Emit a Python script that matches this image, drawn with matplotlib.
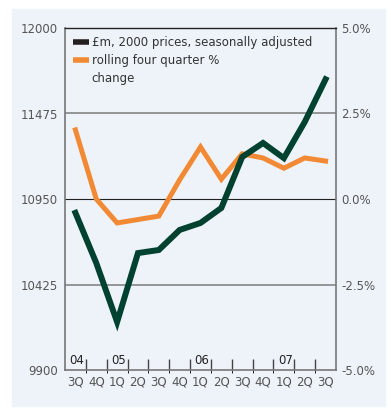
import matplotlib
matplotlib.use("Agg")
import matplotlib.pyplot as plt
from matplotlib.lines import Line2D
from matplotlib.patches import Rectangle
from matplotlib.transforms import blended_transform_factory

quarters = ['3Q', '4Q', '1Q', '2Q', '3Q', '4Q', '1Q', '2Q', '3Q', '4Q', '1Q', '2Q', '3Q']
years = ['04', '05', '06', '07']
year_pos = [0, 2, 6, 10]

gdp = [10865, 10557, 10195, 10618, 10637, 10760, 10803, 10895,
       11208, 11294, 11201, 11423, 11685]
growth = [2.02, 0.0, -0.70, -0.60, -0.50, 0.56, 1.52, 0.58,
          1.32, 1.20, 0.90, 1.20, 1.11]

left_ticks = [9900, 10425, 10950, 11475, 12000]
right_ticks = [-5.0, -2.5, 0.0, 2.5, 5.0]

bg = '#eef3fa'
green = '#00412f'
orange = '#f28a35'
txt = '#555555'

plt.rcParams['font.family'] = ['DejaVu Sans']
plt.rcParams['font.size'] = 8.5

fig = plt.figure(figsize=(3.91, 4.15), dpi=100)
fig.patches.append(Rectangle((12/391, 1 - 406/415), 373/391, 397/415,
                             transform=fig.transFigure, color=bg, zorder=-10))

# right axis (percent) sits underneath, left axis (£m) on top
ax2 = fig.add_axes([65/391, 45/415, 271/391, 342/415], zorder=0)
ax2.set_facecolor(bg)
ax = fig.add_axes([65/391, 45/415, 271/391, 342/415], zorder=1, sharex=ax2)
ax.patch.set_visible(False)

x = list(range(len(quarters)))

ax2.yaxis.tick_right()
ax2.set_ylim(-5, 5)
ax2.set_yticks(right_ticks)
ax2.set_yticklabels(['%.1f%%' % v for v in right_ticks])
ax2.tick_params(axis='y', length=0, pad=4, colors=txt)
ax2.tick_params(axis='x', labelbottom=False, length=0)
for s in ax2.spines.values():
    s.set_visible(False)

for v in [-2.5, 2.5]:
    ax2.axhline(v, color='#858585', lw=1.2, zorder=1)
ax2.axhline(0, color='#222222', lw=0.8, zorder=1)
ax2.plot(x, growth, color=orange, lw=3.6, zorder=3, solid_joinstyle='miter')

ax.set_xlim(-0.5, len(quarters) - 0.5)
ax.set_ylim(9900, 12000)
ax.set_yticks(left_ticks)
ax.set_yticklabels([str(v) for v in left_ticks])
ax.tick_params(axis='y', length=0, pad=5, colors=txt)
ax.set_xticks(x)
ax.set_xticklabels(quarters)
ax.tick_params(axis='x', which='major', length=0, pad=4, colors=txt)
ax.set_xticks([i + 0.5 for i in x[:-1]], minor=True)
ax.tick_params(axis='x', which='minor', direction='in', length=8,
               width=1, color='#444444')

for s in ['left', 'right', 'bottom']:
    ax.spines[s].set_color('#777777')
    ax.spines[s].set_linewidth(1.2)
ax.spines['top'].set_color('#222222')
ax.spines['top'].set_linewidth(1.0)

ax.plot(x, gdp, color=green, lw=4.3, zorder=4, solid_joinstyle='miter')

trans = blended_transform_factory(ax.transData, ax.transAxes)
for yr, p in zip(years, year_pos):
    ax.text(p + 0.42, 0.008, yr, transform=trans, ha='right', va='bottom',
            color='#222222', fontsize=8.5)

handles = [Line2D([], [], color='#231f20', lw=4, solid_capstyle='butt'),
           Line2D([], [], color=orange, lw=4, solid_capstyle='butt'),
           Line2D([], [], color='none', lw=0)]
leg = ax.legend(handles, ['£m, 2000 prices, seasonally adjusted',
                          'rolling four quarter %', 'change'],
                loc='upper left', frameon=False, handlelength=1.3,
                handletextpad=0.25, borderaxespad=0.3, labelspacing=0.42,
                bbox_to_anchor=(0.0, 1.0))
for t in leg.get_texts():
    t.set_color('#333333')

fig.savefig('out.png', dpi=100, facecolor='white')
